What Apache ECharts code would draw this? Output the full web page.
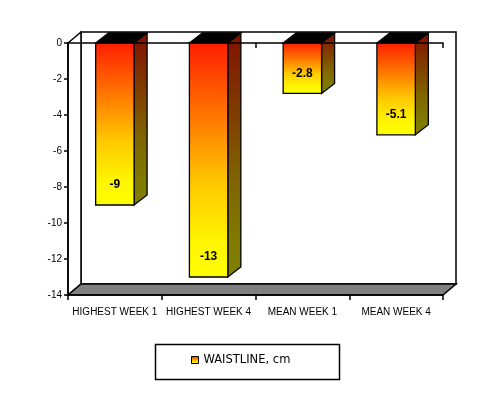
<!DOCTYPE html>
<html>
<head>
<meta charset="utf-8">
<script src="https://cdn.jsdelivr.net/npm/echarts@6/dist/echarts.min.js"></script>
<style>html,body{margin:0;padding:0;background:#fff}#c{width:500px;height:395px}</style>
</head>
<body>
<div id="c"></div>
<script>
const categories = ['HIGHEST WEEK 1', 'HIGHEST WEEK 4', 'MEAN WEEK 1', 'MEAN WEEK 4'];
const waistline = [-9, -13, -2.8, -5.1];
const seriesName = 'WAISTLINE, cm';
const yMin = -14, yMax = 0, yStep = 2;

const chart = echarts.init(document.getElementById('c'), null, {renderer: 'canvas'});

function frontGrad() {
  return new echarts.graphic.LinearGradient(0, 0, 0, 1, [
    {offset: 0, color: '#FF1E00'}, {offset: 0.35, color: '#FF8000'},
    {offset: 0.6, color: '#FFC800'}, {offset: 0.85, color: '#FFF500'},
    {offset: 1, color: '#FFFF00'}]);
}
function sideGrad() {
  return new echarts.graphic.LinearGradient(0, 0, 0, 1, [
    {offset: 0, color: '#801000'}, {offset: 0.35, color: '#804000'},
    {offset: 0.6, color: '#806400'}, {offset: 0.85, color: '#807A00'},
    {offset: 1, color: '#808000'}]);
}

const BOX_DX = 13, BOX_DY = 11, BAR_DX = 13, BAR_DY = 10;

function renderWalls(params, api) {
  const cs = params.coordSys;
  const L = cs.x, T = cs.y, R = cs.x + cs.width, B = cs.y + cs.height;
  const st = {stroke: '#000', lineWidth: 1.5};
  return {type: 'group', silent: true, children: [
    {type: 'rect', shape: {x: L + BOX_DX, y: T - BOX_DY, width: cs.width, height: cs.height},
     style: Object.assign({fill: '#fff'}, st)},
    {type: 'polygon', shape: {points: [[L, T], [L + BOX_DX, T - BOX_DY], [L + BOX_DX, B - BOX_DY], [L, B]]},
     style: Object.assign({fill: '#fff'}, st)},
    {type: 'polygon', shape: {points: [[L, B], [L + BOX_DX, B - BOX_DY], [R + BOX_DX, B - BOX_DY], [R, B]]},
     style: Object.assign({fill: '#808080'}, st)}
  ]};
}

function renderBar(params, api) {
  const idx = api.value(0), v = api.value(1);
  const base = api.coord([idx, 0]);
  const end = api.coord([idx, v]);
  const band = api.size([1, 0])[0];
  const w = band * 0.41;
  const x0 = base[0] - w / 2, x1 = base[0] + w / 2;
  const yt = base[1], yb = end[1];
  const st = {stroke: '#000', lineWidth: 1.3};
  return {type: 'group', children: [
    {type: 'polygon', shape: {points: [[x0, yt], [x0 + BAR_DX, yt - BAR_DY], [x1 + BAR_DX, yt - BAR_DY], [x1, yt]]},
     style: Object.assign({fill: '#000'}, st)},
    {type: 'polygon', shape: {points: [[x1, yt], [x1 + BAR_DX, yt - BAR_DY], [x1 + BAR_DX, yb - BAR_DY], [x1, yb]]},
     style: Object.assign({fill: sideGrad()}, st)},
    {type: 'rect', shape: {x: x0, y: yt, width: w, height: yb - yt},
     style: Object.assign({fill: frontGrad()}, st)},
    {type: 'text', x: base[0], y: yb - 20,
     style: {text: String(v), fill: '#000', font: 'bold 12px "Liberation Sans", Arial, sans-serif',
             align: 'center', verticalAlign: 'middle'}}
  ]};
}

const axisFont = {fontFamily: '"Liberation Sans", Arial, sans-serif', fontSize: 10, color: '#000'};

chart.setOption({
  animation: false,
  backgroundColor: '#fff',
  grid: {left: 68, right: 57, top: 43, bottom: 100},
  xAxis: [
    {type: 'category', data: categories, position: 'bottom', z: 10,
     axisLine: {onZero: false, lineStyle: {color: '#000', width: 1.5}},
     axisTick: {show: true, length: 5, lineStyle: {color: '#000', width: 1.5}},
     axisLabel: Object.assign({interval: 0, margin: 12}, axisFont)},
    {type: 'category', data: categories, position: 'top', z: 10,
     axisLine: {onZero: false, lineStyle: {color: '#000', width: 1.5}},
     axisTick: {show: true, inside: true, length: 5, lineStyle: {color: '#000', width: 1.5}},
     axisLabel: {show: false}}
  ],
  yAxis: {type: 'value', min: yMin, max: yMax, interval: yStep, z: 10,
    axisLine: {show: true, lineStyle: {color: '#000', width: 1.5}},
    axisTick: {show: true, length: 4, lineStyle: {color: '#000', width: 1.5}},
    splitLine: {show: false},
    axisLabel: Object.assign({margin: 6}, axisFont)},
  legend: {left: 191, top: 354, padding: 0, itemWidth: 7, itemHeight: 7,
    data: [{name: seriesName, icon: 'rect'}],
    itemStyle: {borderColor: '#000', borderWidth: 1},
    textStyle: {fontFamily: '"DejaVu Sans", Verdana, sans-serif', fontSize: 11.5, color: '#000'}},
  graphic: [{type: 'rect', left: 153, top: 342, shape: {width: 184, height: 35},
    style: {fill: 'none', stroke: '#000', lineWidth: 1.5}}],
  series: [
    {type: 'custom', name: 'walls', renderItem: renderWalls, data: [[0, 0]], z: 1, silent: true,
     encode: {x: 0, y: 1}},
    {type: 'custom', name: seriesName, renderItem: renderBar, z: 3,
     itemStyle: {color: frontGrad(), borderColor: '#000'},
     encode: {x: 0, y: 1},
     data: waistline.map((v, i) => [i, v])}
  ]
});
</script>
</body>
</html>
